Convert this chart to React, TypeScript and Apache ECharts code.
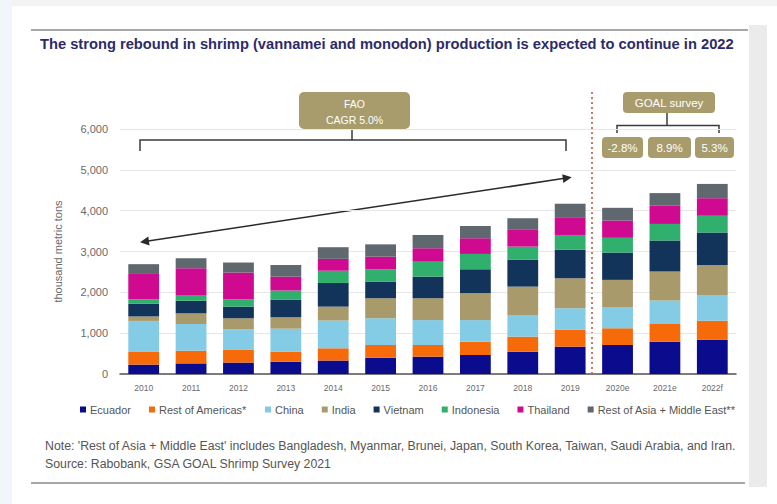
import React, { useEffect, useRef } from "react";
import * as echarts from "echarts";

const categories = ["2010", "2011", "2012", "2013", "2014", "2015", "2016", "2017", "2018", "2019", "2020e", "2021e", "2022f"];
const ecuador = [230, 260, 280, 300, 330, 400, 425, 465, 545, 670, 710, 790, 835];
const restAmericas = [310, 310, 310, 250, 300, 310, 285, 325, 370, 410, 410, 435, 470];
const china = [760, 655, 505, 560, 680, 655, 610, 530, 530, 530, 520, 575, 630];
const india = [110, 260, 270, 280, 340, 490, 535, 660, 695, 735, 665, 710, 735];
const vietnam = [310, 310, 285, 425, 580, 410, 530, 585, 655, 695, 670, 760, 795];
const indonesia = [110, 140, 180, 230, 300, 300, 365, 375, 325, 365, 360, 405, 410];
const thailand = [620, 655, 655, 340, 290, 310, 330, 385, 410, 435, 425, 445, 430];
const restAsia = [240, 245, 245, 285, 285, 300, 325, 300, 285, 330, 310, 310, 350];

const seriesNames = ["Ecuador", "Rest of Americas*", "China", "India", "Vietnam", "Indonesia", "Thailand", "Rest of Asia + Middle East**"];
const seriesColors = ["#0b0b8e", "#f76a0a", "#84cbe6", "#a99a6c", "#12345a", "#30b06c", "#cf0a90", "#5f686e"];
const seriesData = [ecuador, restAmericas, china, india, vietnam, indonesia, thailand, restAsia];

const yTicks = [0, 1000, 2000, 3000, 4000, 5000, 6000];

const titleText = "The strong rebound in shrimp (vannamei and monodon) production is expected to continue in 2022";
const noteText = "Note: 'Rest of Asia + Middle East' includes Bangladesh, Myanmar, Brunei, Japan, South Korea, Taiwan, Saudi Arabia, and Iran.";
const sourceText = "Source: Rabobank, GSA GOAL Shrimp Survey 2021";
const faoLabel = ["FAO", "CAGR 5.0%"];
const goalLabel = "GOAL survey";
const growthLabels = ["-2.8%", "8.9%", "5.3%"];

const FONT = "'Liberation Sans', Arial, sans-serif";
const BOX = "#a89b6c";
const LINE = "#3a3a3a";

export default function App() {
  const ref = useRef<HTMLDivElement>(null);
  useEffect(() => {
    if (!ref.current) return;
    const chart = echarts.init(ref.current, null, { renderer: "svg" });

    const growthBoxes = [
      { x: 602, w: 41 },
      { x: 648, w: 43 },
      { x: 695, w: 39 },
    ];

    const option: any = {
      animation: false,
      backgroundColor: "#ffffff",
      textStyle: { fontFamily: FONT },
      grid: { left: 120, right: 41, top: 129, bottom: 130, containLabel: false },
      legend: {
        left: 80,
        top: 404,
        itemWidth: 6,
        itemHeight: 6,
        itemGap: 18,
        icon: "rect",
        padding: 0,
        textStyle: { fontSize: 11, color: "#555555", fontFamily: FONT, padding: [0, 0, 0, -1] },
        data: seriesNames,
      },
      xAxis: {
        type: "category",
        data: categories,
        axisLine: { lineStyle: { color: "#555555", width: 1.5 } },
        axisTick: { show: false },
        axisLabel: { fontSize: 8.5, color: "#6a6a6a", margin: 9, fontFamily: FONT },
      },
      yAxis: {
        type: "value",
        min: 0,
        max: 6000,
        interval: 1000,
        name: "thousand metric tons",
        nameLocation: "middle",
        nameGap: 57,
        nameTextStyle: { fontSize: 11, color: "#6a6a6a", fontFamily: FONT },
        axisLine: { show: false },
        axisTick: { show: false },
        axisLabel: {
          fontSize: 11,
          color: "#6a6a6a",
          margin: 12,
          fontFamily: FONT,
          formatter: (v: number) => (yTicks.includes(v) ? v.toLocaleString("en-US") : ""),
        },
        splitLine: { lineStyle: { color: "#e6e6e6", width: 1 } },
      },
      series: seriesNames.map((name, i) => ({
        name,
        type: "bar",
        stack: "total",
        barWidth: "65%",
        itemStyle: { color: seriesColors[i] },
        data: seriesData[i],
      })),
      graphic: [
        // page edges
        { type: "rect", shape: { x: 0, y: 0, width: 777, height: 6 }, style: { fill: "#f3f3f3" }, z: -1 },
        { type: "rect", shape: { x: 0, y: 0, width: 12, height: 504 }, style: { fill: "#f2f5f9" }, z: -1 },
        { type: "rect", shape: { x: 749, y: 25, width: 18, height: 462 }, style: { fill: "#ebebeb" }, z: -1 },
        // rules
        { type: "line", shape: { x1: 31, y1: 30, x2: 748, y2: 30 }, style: { stroke: "#8a8a8a", lineWidth: 1.5 } },
        { type: "line", shape: { x1: 31, y1: 483, x2: 745, y2: 483 }, style: { stroke: "#8a8a8a", lineWidth: 1.5 } },
        // title
        {
          type: "text",
          x: 40,
          y: 44,
          style: { text: titleText, font: `bold 14.7px ${FONT}`, fill: "#2c2b6a", textVerticalAlign: "middle" },
        },
        // note and source
        {
          type: "text",
          x: 45,
          y: 446,
          style: { text: noteText, font: `12.3px ${FONT}`, fill: "#555555", textVerticalAlign: "middle" },
        },
        {
          type: "text",
          x: 45,
          y: 464,
          style: { text: sourceText, font: `12.3px ${FONT}`, fill: "#555555", textVerticalAlign: "middle" },
        },
        // FAO box and bracket
        { type: "rect", shape: { x: 299, y: 92, width: 111, height: 37, r: 5 }, style: { fill: BOX } },
        {
          type: "text",
          x: 354.5,
          y: 104,
          style: { text: faoLabel[0], font: `10.5px ${FONT}`, fill: "#ffffff", textAlign: "center", textVerticalAlign: "middle" },
        },
        {
          type: "text",
          x: 354.5,
          y: 120,
          style: { text: faoLabel[1], font: `10.5px ${FONT}`, fill: "#ffffff", textAlign: "center", textVerticalAlign: "middle" },
        },
        {
          type: "polyline",
          shape: { points: [[140, 151], [140, 140], [566, 140], [566, 151]] },
          style: { stroke: LINE, lineWidth: 1.5, fill: "none" },
        },
        { type: "line", shape: { x1: 352, y1: 129, x2: 352, y2: 140 }, style: { stroke: LINE, lineWidth: 1.5 } },
        // CAGR arrow
        { type: "line", shape: { x1: 148, y1: 241, x2: 563, y2: 178.6 }, style: { stroke: "#2a2a2a", lineWidth: 1.5 } },
        { type: "polygon", shape: { points: [[140, 242.3], [149.5, 245.4], [148.3, 236.5]] }, style: { fill: "#2a2a2a" } },
        { type: "polygon", shape: { points: [[571.7, 177.3], [563.4, 183.1], [562.2, 174.2]] }, style: { fill: "#2a2a2a" } },
        // dotted divider
        {
          type: "line",
          shape: { x1: 592, y1: 92, x2: 592, y2: 373 },
          style: { stroke: "#b0503a", lineWidth: 1.5, lineDash: [2, 3] },
        },
        // GOAL survey box and bracket
        { type: "rect", shape: { x: 623, y: 92, width: 92, height: 21, r: 4 }, style: { fill: BOX } },
        {
          type: "text",
          x: 669,
          y: 102.5,
          style: { text: goalLabel, font: `11.5px ${FONT}`, fill: "#ffffff", textAlign: "center", textVerticalAlign: "middle" },
        },
        {
          type: "polyline",
          shape: { points: [[617, 133], [617, 125.5], [719, 125.5], [719, 133]] },
          style: { stroke: LINE, lineWidth: 1.5, fill: "none" },
        },
        { type: "line", shape: { x1: 667, y1: 113, x2: 667, y2: 125.5 }, style: { stroke: LINE, lineWidth: 1.5 } },
        ...growthBoxes.flatMap((b, i) => [
          { type: "rect", shape: { x: b.x, y: 137, width: b.w, height: 21, r: 4 }, style: { fill: BOX } },
          {
            type: "text",
            x: b.x + b.w / 2,
            y: 147.5,
            style: { text: growthLabels[i], font: `11.5px ${FONT}`, fill: "#ffffff", textAlign: "center", textVerticalAlign: "middle" },
          },
        ]),
      ],
    };

    chart.setOption(option);
    return () => chart.dispose();
  }, []);

  return <div ref={ref} style={{ position: "absolute", left: 0, top: 0, width: 777, height: 504 }} />;
}
